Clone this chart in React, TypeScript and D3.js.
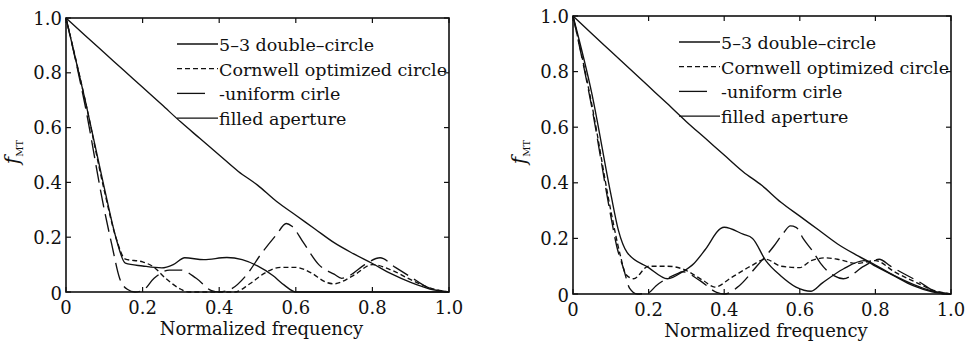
import * as d3 from "d3";

// Axis ticks (both panels share them)
const tickValues = [0, 0.2, 0.4, 0.6, 0.8, 1.0];
const tickLabels = ["0", "0.2", "0.4", "0.6", "0.8", "1.0"];
const seriesNames = ["5–3 double–circle", "Cornwell optimized circle", "-uniform cirle", "filled aperture"];

type Pt = [number, number];

// Filled aperture (same in both panels)
const filledAperture: Pt[] = [
    [0, 1], [0.05, 0.936], [0.1, 0.873], [0.15, 0.81], [0.2, 0.747], [0.25, 0.684], [0.3, 0.62],
    [0.35, 0.56], [0.4, 0.5], [0.45, 0.44], [0.5, 0.39], [0.55, 0.33], [0.6, 0.28], [0.65, 0.23],
    [0.7, 0.18], [0.75, 0.14], [0.8, 0.104], [0.85, 0.066], [0.9, 0.035], [0.95, 0.011], [1.0, 0],
];

// Left panel
const leftDoubleCircle: Pt[] = [
    [0, 1], [0.05, 0.7], [0.1, 0.38], [0.13, 0.2], [0.155, 0.105], [0.2, 0.095], [0.25, 0.088],
    [0.28, 0.1], [0.31, 0.125], [0.36, 0.118], [0.42, 0.126], [0.46, 0.118], [0.5, 0.095],
    [0.54, 0.06], [0.57, 0.025], [0.6, 0], [0.8, 0], [1.0, 0],
];
const leftCornwell: Pt[] = [
    [0, 1], [0.05, 0.7], [0.1, 0.37], [0.13, 0.2], [0.155, 0.12], [0.2, 0.11], [0.23, 0.09],
    [0.26, 0.05], [0.3, 0.01], [0.32, 0], [0.44, 0], [0.48, 0.03], [0.52, 0.07], [0.56, 0.09],
    [0.6, 0.09], [0.64, 0.07], [0.68, 0.035], [0.7, 0.03], [0.75, 0.06], [0.8, 0.1], [0.85, 0.08],
    [0.9, 0.045], [0.95, 0.015], [1.0, 0],
];
const leftUniform: Pt[] = [
    [0, 1], [0.05, 0.68], [0.1, 0.3], [0.12, 0.17], [0.14, 0.05], [0.16, 0.01], [0.18, 0],
    [0.2, 0.005], [0.23, 0.05], [0.27, 0.08], [0.3, 0.08], [0.34, 0.05], [0.38, 0.005], [0.4, 0],
    [0.43, 0.01], [0.47, 0.06], [0.51, 0.14], [0.55, 0.21], [0.575, 0.25], [0.59, 0.24],
    [0.62, 0.18], [0.66, 0.1], [0.7, 0.065], [0.72, 0.05], [0.74, 0.06], [0.78, 0.1],
    [0.82, 0.125], [0.86, 0.09], [0.9, 0.055], [0.94, 0.02], [0.97, 0.005], [1.0, 0],
];

// Right panel
const rightDoubleCircle: Pt[] = [
    [0, 1], [0.05, 0.72], [0.1, 0.36], [0.12, 0.23], [0.143, 0.15], [0.2, 0.095], [0.25, 0.055],
    [0.29, 0.08], [0.32, 0.11], [0.35, 0.16], [0.39, 0.235], [0.4, 0.24], [0.45, 0.215],
    [0.475, 0.2], [0.51, 0.12], [0.55, 0.065], [0.59, 0.025], [0.63, 0.01], [0.66, 0.04],
    [0.715, 0.09], [0.77, 0.12], [0.8, 0.1], [0.85, 0.065], [0.9, 0.03], [0.95, 0.008], [1.0, 0],
];
const rightCornwell: Pt[] = [
    [0, 1], [0.05, 0.68], [0.1, 0.3], [0.125, 0.14], [0.14, 0.07], [0.16, 0.055], [0.2, 0.1],
    [0.25, 0.1], [0.29, 0.09], [0.345, 0.048], [0.375, 0.025], [0.42, 0.06], [0.47, 0.1],
    [0.51, 0.125], [0.55, 0.1], [0.6, 0.095], [0.63, 0.12], [0.67, 0.13], [0.7, 0.125],
    [0.75, 0.11], [0.8, 0.12], [0.85, 0.08], [0.91, 0.04], [0.95, 0.015], [1.0, 0],
];
const rightUniform: Pt[] = [
    [0, 1], [0.05, 0.67], [0.1, 0.28], [0.116, 0.17], [0.134, 0.09], [0.15, 0.02], [0.17, 0],
    [0.2, 0.005], [0.22, 0.03], [0.275, 0.072], [0.29, 0.08], [0.336, 0.048], [0.38, 0.006],
    [0.4, 0], [0.44, 0.03], [0.486, 0.1], [0.53, 0.17], [0.557, 0.22], [0.575, 0.245],
    [0.59, 0.24], [0.61, 0.197], [0.636, 0.15], [0.655, 0.11], [0.69, 0.066], [0.715, 0.055],
    [0.77, 0.1], [0.81, 0.125], [0.84, 0.1], [0.91, 0.048], [0.98, 0], [1.0, 0],
];

const FONT = "DejaVu Serif";
const dashes = [ "", "5,3", "18,7", "" ];
const legendDashes = [ "", "5,3", "28,14", "" ];

interface Box { x0: number; x1: number; y0: number; y1: number; }

function Panel ( { box, series, legendX }: { box: Box; series: Pt[][]; legendX: number } )
{
    const x = d3.scaleLinear().domain( [ 0, 1 ] ).range( [ box.x0, box.x1 ] );
    const y = d3.scaleLinear().domain( [ 0, 1 ] ).range( [ box.y1, box.y0 ] );
    const line = d3.line<Pt>().x( ( d ) => x( d[ 0 ] ) ).y( ( d ) => y( d[ 1 ] ) ).curve( d3.curveMonotoneX );
    const tk = 5;
    const cx = ( box.x0 + box.x1 ) / 2;

    return (
        <g>
            {/* curves */}
            { series.map( ( s, i ) => (
                <path key={ i } d={ line( s ) || "" } fill="none" stroke="#111" strokeWidth={ 1.35 }
                    strokeDasharray={ dashes[ i ] || undefined } />
            ) ) }

            {/* frame */}
            <rect x={ box.x0 } y={ box.y0 } width={ box.x1 - box.x0 } height={ box.y1 - box.y0 }
                fill="none" stroke="#111" strokeWidth={ 1.6 } />

            {/* ticks */}
            { tickValues.map( ( v, i ) => (
                <g key={ i }>
                    <line x1={ x( v ) } x2={ x( v ) } y1={ box.y1 } y2={ box.y1 - tk } stroke="#111" strokeWidth={ 1.2 } />
                    <line x1={ x( v ) } x2={ x( v ) } y1={ box.y0 } y2={ box.y0 + tk } stroke="#111" strokeWidth={ 1.2 } />
                    <line x1={ box.x0 } x2={ box.x0 + tk } y1={ y( v ) } y2={ y( v ) } stroke="#111" strokeWidth={ 1.2 } />
                    <line x1={ box.x1 } x2={ box.x1 - tk } y1={ y( v ) } y2={ y( v ) } stroke="#111" strokeWidth={ 1.2 } />
                    <text x={ x( v ) } y={ box.y1 + 22 } textAnchor="middle" fontFamily={ FONT } fontSize={ 18 } fill="#111">{ tickLabels[ i ] }</text>
                    <text x={ box.x0 - 4 } y={ y( v ) + ( v === 0 ? 8 : 6.5 ) } textAnchor="end" fontFamily={ FONT } fontSize={ 18 } fill="#111">{ tickLabels[ i ] }</text>
                </g>
            ) ) }

            {/* axis titles */}
            <text x={ cx + 4 } y={ box.y1 + 43 } textAnchor="middle" fontFamily={ FONT } fontSize={ 18 } fill="#111">Normalized frequency</text>
            <text transform={ `translate(${ box.x0 - 47 },${ ( box.y0 + box.y1 ) / 2 - 3 }) rotate(-90)` } textAnchor="middle" fontFamily={ FONT } fill="#111">
                <tspan fontStyle="italic" fontSize={ 20 }>f</tspan>
                <tspan fontSize={ 10 } dy={ 4 }>MT</tspan>
            </text>

            {/* legend */}
            { seriesNames.map( ( name, i ) =>
            {
                const by = box.y0 + 33 + i * 24.7;
                return (
                    <g key={ name }>
                        <line x1={ legendX } x2={ legendX + 41 } y1={ by - 7 } y2={ by - 7 } stroke="#111" strokeWidth={ 1.3 }
                            strokeDasharray={ legendDashes[ i ] || undefined } />
                        <text x={ legendX + 42 } y={ by } fontFamily={ FONT } fontSize={ 17.5 } fill="#111">{ name }</text>
                    </g>
                );
            } ) }
        </g>
    );
}

export default function App ()
{
    const left: Box = { x0: 66, x1: 449, y0: 18, y1: 292 };
    const right: Box = { x0: 573, x1: 951, y0: 16, y1: 294 };
    return (
        <div style={ { position: "absolute", left: 0, top: 0 } }>
            <svg width={ 971 } height={ 347 } style={ { display: "block", background: "#fff" } }>
                <Panel box={ left } series={ [ leftDoubleCircle, leftCornwell, leftUniform, filledAperture ] } legendX={ 177 } />
                <Panel box={ right } series={ [ rightDoubleCircle, rightCornwell, rightUniform, filledAperture ] } legendX={ 679 } />
            </svg>
        </div>
    );
}
